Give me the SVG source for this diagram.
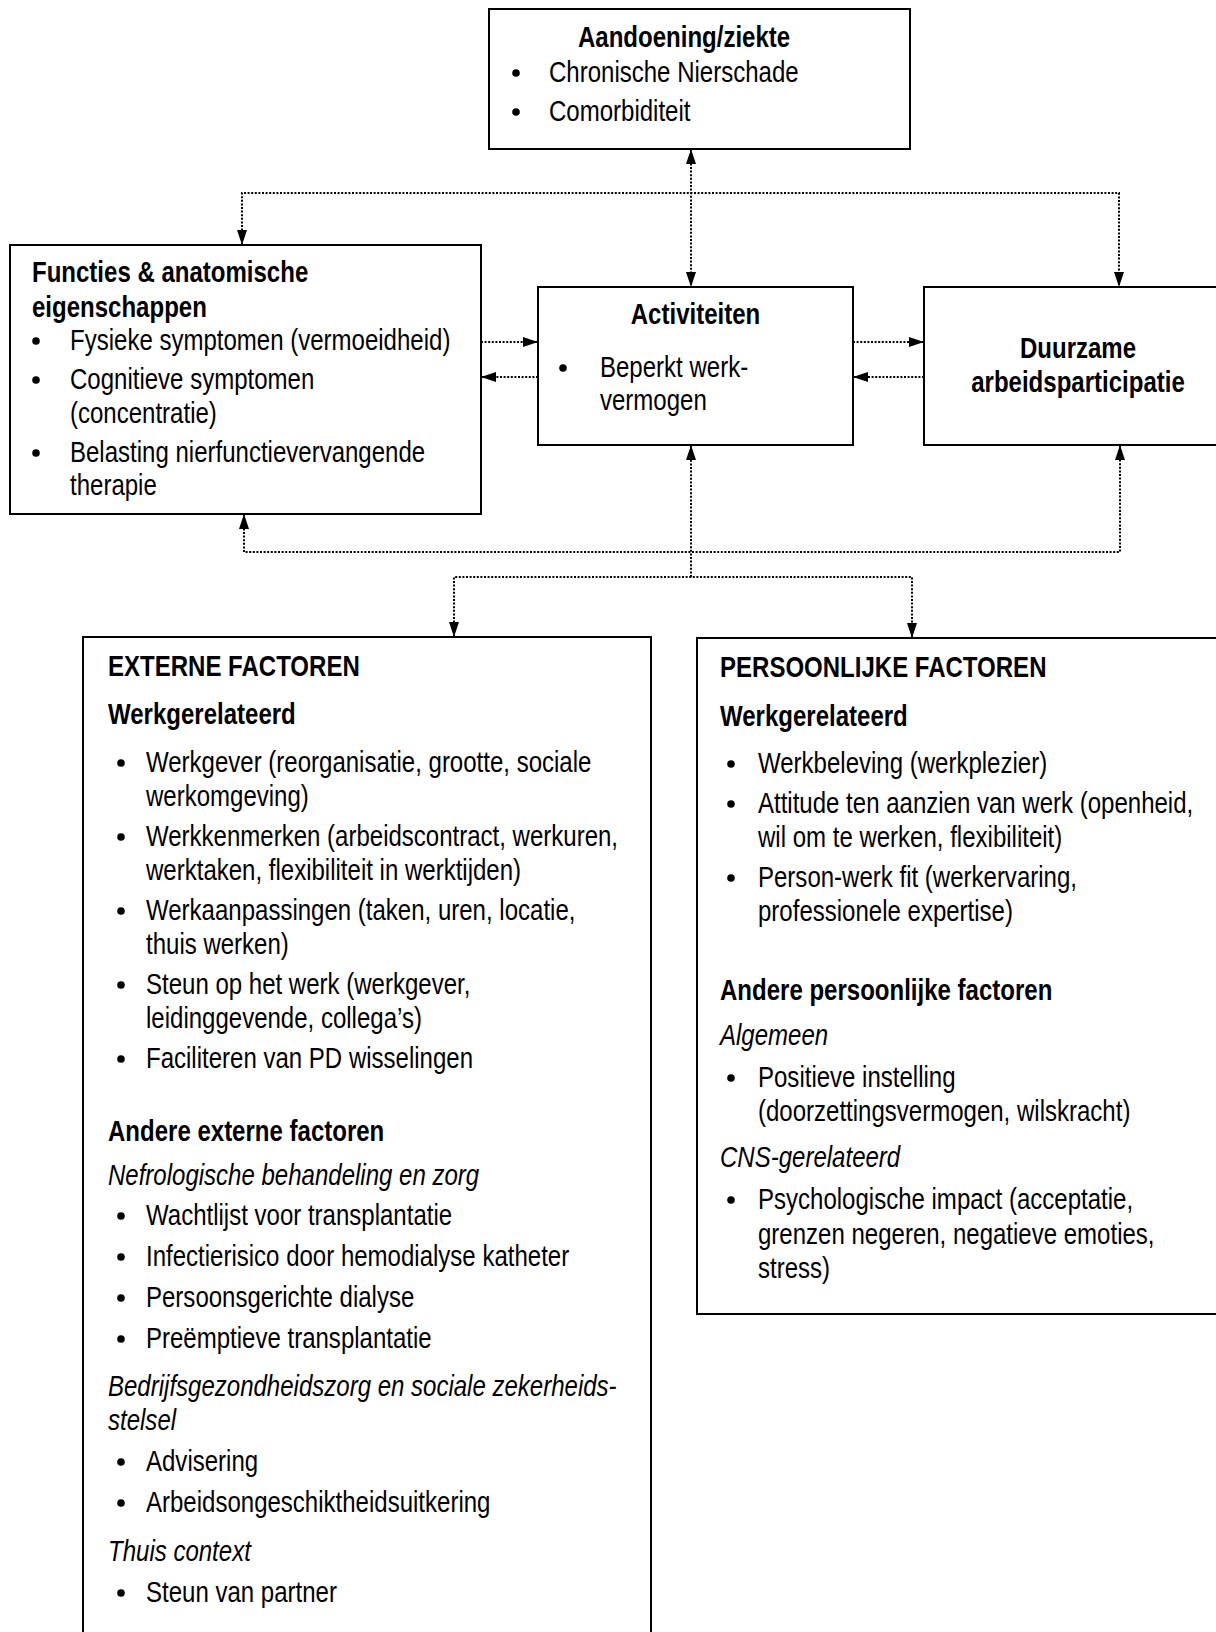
<svg xmlns="http://www.w3.org/2000/svg" width="1216" height="1632" viewBox="0 0 1216 1632">
<style>
.box{fill:#fff;stroke:#000;stroke-width:2}
.t{font-family:'Liberation Sans',Arial,sans-serif;font-size:29.3px;fill:#000}
.b{font-weight:bold}
.i{font-style:italic}
.m{text-anchor:middle}
.dot{fill:none;stroke:#000;stroke-width:2;stroke-dasharray:2 1.6}
.bl{fill:#000}
</style>
<defs>
<marker id="ah" markerUnits="userSpaceOnUse" markerWidth="15" markerHeight="10" refX="15" refY="5" orient="auto-start-reverse">
<path d="M0,0 L15,5 L0,10 z" fill="#000"/>
</marker>
</defs>
<rect width="1216" height="1632" fill="#fff"/>

<g id="connectors">
<path class="dot" d="M691,149 L691,287" marker-start="url(#ah)" marker-end="url(#ah)"/>
<path class="dot" d="M242,245 L242,193 L1119,193 L1119,287" marker-start="url(#ah)" marker-end="url(#ah)"/>
<path class="dot" d="M481,342 L538,342" marker-end="url(#ah)"/>
<path class="dot" d="M538,377 L481,377" marker-end="url(#ah)"/>
<path class="dot" d="M853,342 L924,342" marker-end="url(#ah)"/>
<path class="dot" d="M924,377 L853,377" marker-end="url(#ah)"/>
<path class="dot" d="M691,577 L691,445" marker-end="url(#ah)"/>
<path class="dot" d="M244,514 L244,552 L1120,552 L1120,445" marker-start="url(#ah)" marker-end="url(#ah)"/>
<path class="dot" d="M454,637 L454,577 L912,577 L912,638" marker-start="url(#ah)" marker-end="url(#ah)"/>
</g>

<g id="aandoening">
<rect class="box" x="489" y="9" width="421" height="140"/>
<text class="t b" transform="translate(578,47) scale(.82,1)">Aandoening/ziekte</text>
<circle class="bl" cx="516" cy="73" r="3.8"/>
<text class="t" transform="translate(549,82) scale(.82,1)">Chronische Nierschade</text>
<circle class="bl" cx="516" cy="112" r="3.8"/>
<text class="t" transform="translate(549,121) scale(.82,1)">Comorbiditeit</text>
</g>

<g id="functies">
<rect class="box" x="10" y="245" width="471" height="269"/>
<text class="t b" transform="translate(32,282) scale(.82,1)">Functies &amp; anatomische</text>
<text class="t b" transform="translate(32,317) scale(.82,1)">eigenschappen</text>
<circle class="bl" cx="36" cy="341" r="3.8"/>
<text class="t" transform="translate(70,350) scale(.82,1)">Fysieke symptomen (vermoeidheid)</text>
<circle class="bl" cx="36" cy="380" r="3.8"/>
<text class="t" transform="translate(70,389) scale(.82,1)">Cognitieve symptomen</text>
<text class="t" transform="translate(70,423) scale(.82,1)">(concentratie)</text>
<circle class="bl" cx="36" cy="453" r="3.8"/>
<text class="t" transform="translate(70,462) scale(.82,1)">Belasting nierfunctievervangende</text>
<text class="t" transform="translate(70,495) scale(.82,1)">therapie</text>
</g>

<g id="activiteiten">
<rect class="box" x="538" y="287" width="315" height="158"/>
<text class="t b m" transform="translate(695.5,324) scale(.82,1)">Activiteiten</text>
<circle class="bl" cx="563" cy="368" r="3.8"/>
<text class="t" transform="translate(600,377) scale(.82,1)">Beperkt werk-</text>
<text class="t" transform="translate(600,410) scale(.82,1)">vermogen</text>
</g>

<g id="duurzame">
<rect class="box" x="924" y="287" width="310" height="158"/>
<text class="t b m" transform="translate(1078,358) scale(.82,1)">Duurzame</text>
<text class="t b m" transform="translate(1078,392) scale(.82,1)">arbeidsparticipatie</text>
</g>

<g id="externe">
<rect class="box" x="83" y="637" width="568" height="1020"/>
<text class="t b" transform="translate(108,676) scale(.82,1)">EXTERNE FACTOREN</text>
<text class="t b" transform="translate(108,724) scale(.82,1)">Werkgerelateerd</text>
<circle class="bl" cx="121" cy="763" r="3.8"/>
<text class="t" transform="translate(146,772) scale(.82,1)">Werkgever (reorganisatie, grootte, sociale</text>
<text class="t" transform="translate(146,806) scale(.82,1)">werkomgeving)</text>
<circle class="bl" cx="121" cy="837" r="3.8"/>
<text class="t" transform="translate(146,846) scale(.82,1)">Werkkenmerken (arbeidscontract, werkuren,</text>
<text class="t" transform="translate(146,880) scale(.82,1)">werktaken, flexibiliteit in werktijden)</text>
<circle class="bl" cx="121" cy="911" r="3.8"/>
<text class="t" transform="translate(146,920) scale(.82,1)">Werkaanpassingen (taken, uren, locatie,</text>
<text class="t" transform="translate(146,954) scale(.82,1)">thuis werken)</text>
<circle class="bl" cx="121" cy="985" r="3.8"/>
<text class="t" transform="translate(146,994) scale(.82,1)">Steun op het werk (werkgever,</text>
<text class="t" transform="translate(146,1028) scale(.82,1)">leidinggevende, collega’s)</text>
<circle class="bl" cx="121" cy="1059" r="3.8"/>
<text class="t" transform="translate(146,1068) scale(.82,1)">Faciliteren van PD wisselingen</text>
<text class="t b" transform="translate(108,1141) scale(.82,1)">Andere externe factoren</text>
<text class="t i" transform="translate(108,1185) scale(.82,1)">Nefrologische behandeling en zorg</text>
<circle class="bl" cx="121" cy="1216" r="3.8"/>
<text class="t" transform="translate(146,1225) scale(.82,1)">Wachtlijst voor transplantatie</text>
<circle class="bl" cx="121" cy="1257" r="3.8"/>
<text class="t" transform="translate(146,1266) scale(.82,1)">Infectierisico door hemodialyse katheter</text>
<circle class="bl" cx="121" cy="1298" r="3.8"/>
<text class="t" transform="translate(146,1307) scale(.82,1)">Persoonsgerichte dialyse</text>
<circle class="bl" cx="121" cy="1339" r="3.8"/>
<text class="t" transform="translate(146,1348) scale(.82,1)">Preëmptieve transplantatie</text>
<text class="t i" transform="translate(108,1396) scale(.82,1)">Bedrijfsgezondheidszorg en sociale zekerheids-</text>
<text class="t i" transform="translate(108,1430) scale(.82,1)">stelsel</text>
<circle class="bl" cx="121" cy="1462" r="3.8"/>
<text class="t" transform="translate(146,1471) scale(.82,1)">Advisering</text>
<circle class="bl" cx="121" cy="1503" r="3.8"/>
<text class="t" transform="translate(146,1512) scale(.82,1)">Arbeidsongeschiktheidsuitkering</text>
<text class="t i" transform="translate(108,1561) scale(.82,1)">Thuis context</text>
<circle class="bl" cx="121" cy="1593" r="3.8"/>
<text class="t" transform="translate(146,1602) scale(.82,1)">Steun van partner</text>
</g>

<g id="persoonlijke">
<rect class="box" x="697" y="638" width="540" height="676"/>
<text class="t b" transform="translate(720,677) scale(.82,1)">PERSOONLIJKE FACTOREN</text>
<text class="t b" transform="translate(720,726) scale(.82,1)">Werkgerelateerd</text>
<circle class="bl" cx="731" cy="764" r="3.8"/>
<text class="t" transform="translate(758,773) scale(.82,1)">Werkbeleving (werkplezier)</text>
<circle class="bl" cx="731" cy="804" r="3.8"/>
<text class="t" transform="translate(758,813) scale(.82,1)">Attitude ten aanzien van werk (openheid,</text>
<text class="t" transform="translate(758,847) scale(.82,1)">wil om te werken, flexibiliteit)</text>
<circle class="bl" cx="731" cy="878" r="3.8"/>
<text class="t" transform="translate(758,887) scale(.82,1)">Person-werk fit (werkervaring,</text>
<text class="t" transform="translate(758,921) scale(.82,1)">professionele expertise)</text>
<text class="t b" transform="translate(720,1000) scale(.82,1)">Andere persoonlijke factoren</text>
<text class="t i" transform="translate(720,1045) scale(.82,1)">Algemeen</text>
<circle class="bl" cx="731" cy="1078" r="3.8"/>
<text class="t" transform="translate(758,1087) scale(.82,1)">Positieve instelling</text>
<text class="t" transform="translate(758,1121) scale(.82,1)">(doorzettingsvermogen, wilskracht)</text>
<text class="t i" transform="translate(720,1167) scale(.82,1)">CNS-gerelateerd</text>
<circle class="bl" cx="731" cy="1200" r="3.8"/>
<text class="t" transform="translate(758,1209) scale(.82,1)">Psychologische impact (acceptatie,</text>
<text class="t" transform="translate(758,1244) scale(.82,1)">grenzen negeren, negatieve emoties,</text>
<text class="t" transform="translate(758,1278) scale(.82,1)">stress)</text>
</g>
</svg>
